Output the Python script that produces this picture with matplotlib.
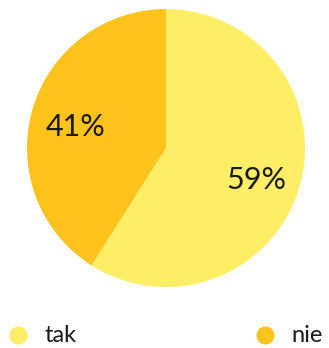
import matplotlib.pyplot as plt
from matplotlib.lines import Line2D

labels = ["tak", "nie"]
shares = [59, 41]
colors = ["#FFEE66", "#FFC31B"]

plt.rcParams["font.family"] = ["Lato", "DejaVu Sans"]

fig = plt.figure(figsize=(3.29, 3.48), dpi=100)
ax = fig.add_axes([0.082, 0.175, 0.845, 0.799])

wedges, texts, autotexts = ax.pie(
    shares,
    colors=colors,
    startangle=90,
    counterclock=False,
    autopct=lambda p: f"{round(p):d}%",
    pctdistance=0.68,
    wedgeprops={"linewidth": 0},
    textprops={"fontsize": 22, "color": "#1a1a1a"},
)
# nudge the percentages a little lower inside their wedges
for t in autotexts:
    x, y = t.get_position()
    t.set_position((x, y - 0.04))
ax.set_xlim(-1, 1)
ax.set_ylim(-1, 1)
ax.set_aspect("equal")

# legend along the bottom: one marker at the left edge, one near the right
legend_x = [0.055, 0.805]
for x, lab, col in zip(legend_x, labels, colors):
    fig.add_artist(Line2D([x], [0.037], marker="o", markersize=12, color=col,
                          linestyle="none", transform=fig.transFigure))
    fig.text(x + 0.08, 0.037, lab, fontsize=17, color="#1a1a1a", va="center", ha="left")

fig.savefig("out.png", dpi=100)
